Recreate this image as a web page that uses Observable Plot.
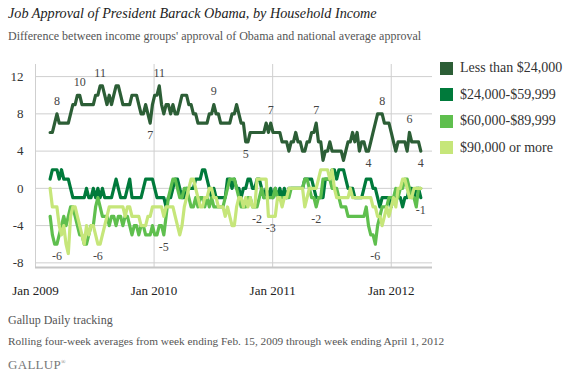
<!DOCTYPE html>
<html><head><meta charset="utf-8">
<script src="https://cdn.jsdelivr.net/npm/d3@7"></script>
<script src="https://cdn.jsdelivr.net/npm/@observablehq/plot@0.6"></script>
<style>
body{margin:0;background:#fff;width:576px;height:378px;position:relative;overflow:hidden;font-family:"Liberation Serif",serif;}
#title{position:absolute;left:8px;top:5px;font-style:italic;font-size:14.2px;color:#222;white-space:nowrap;}
#subtitle{position:absolute;left:8px;top:29px;font-size:12px;color:#555;white-space:nowrap;}
#chart{position:absolute;left:0;top:50px;}
#legend{position:absolute;left:440px;top:55px;}
.item{display:flex;align-items:center;height:26.5px;font-size:14px;color:#333;white-space:nowrap;}
.sw{width:13px;height:13px;margin-right:7px;flex:none;}
.foot{position:absolute;left:8px;font-size:11.3px;color:#555;white-space:nowrap;}
#logo{position:absolute;left:8px;top:357px;font-size:13px;color:#777;letter-spacing:0.3px;}
#logo sup{font-size:6px;}
</style></head>
<body>
<div id="title">Job Approval of President Barack Obama, by Household Income</div>
<div id="subtitle">Difference between income groups' approval of Obama and national average approval</div>
<div id="chart"></div>
<div id="legend"></div>
<div class="foot" style="top:313px;font-size:12px">Gallup Daily tracking</div>
<div class="foot" style="top:335px">Rolling four-week averages from week ending Feb. 15, 2009 through week ending April 1, 2012</div>
<div id="logo">GALLUP<sup>®</sup></div>
<script>
// ---- data ----
const seriesNames = ["Less than $24,000", "$24,000-$59,999", "$60,000-$89,999", "$90,000 or more"];
const seriesColors = ["#2c5e36", "#007a3b", "#5fbf4e", "#c6e67a"];
const firstWeekEnding = "2009-02-15";
const yearTickLabels = ["Jan 2009", "Jan 2010", "Jan 2011", "Jan 2012"];
const yTicks = [-8, -4, 0, 4, 8, 12];

const lessThan24k = [
 6,6,7,8,7,7,7,7,7,8, 9,9,10,10,9,9,9,9,9,9, 10,10,11,11,10,9,10,9,10,11,
 11,10,9,9,9,9,10,10,10,9, 8,8,9,8,7,9,10,10,11,9, 8,9,9,8,9,8,8,9,10,10,
 10,9,9,8,8,7,7,7,7,7, 8,8,9,8,8,7,7,7,7,7, 8,8,9,8,7,7,5,5,6,6,
 6,6,6,6,6,7,6,7,6,6, 6,6,5,5,5,4,5,5,6,5, 5,4,4,5,5,6,6,7,5,5,
 3,4,4,5,4,4,4,4,4,3, 4,5,5,6,5,6,4,5,5,4, 4,5,6,7,8,8,8,7,7,7,
 6,5,4,5,5,5,5,4,6,5, 5,5,5,4];
const from24to60k = [
 1,2,2,2,1,2,1,1,1,0, -1,-1,-1,-1,-1,-1,0,-1,-1,0, -1,0,-1,0,-1,-1,-1,-1,0,1,
 0,-1,-1,-1,0,1,-1,-1,-1,-1, -1,0,1,1,1,1,0,-1,-1,-1, -1,-2,-1,-1,0,1,1,0,-1,-1,
 0,0,0,0,1,1,1,2,2,1, 0,-1,0,-1,-1,-1,-1,-1,1,1, 0,1,0,0,-1,0,0,1,1,0,
 0,1,1,0,-1,0,-1,0,-1,0, -1,0,-1,0,-1,0,0,0,0,0, 0,0,1,1,1,1,0,-1,-1,-1,
 -1,1,1,1,2,2,1,2,2,2, 1,0,0,0,-1,-1,-1,-1,0,1, 1,1,0,0,-1,-2,-1,-1,-1,-1,
 -2,-1,-1,-1,-1,-2,-1,-1,0,0, -1,0,0,-1];
const from60to90k = [
 -3,-5,-6,-6,-5,-4,-3,-4,-3,-2, -2,-3,-4,-5,-5,-6,-6,-5,-4,-4, -2,-1,-2,-3,-3,-3,-4,-3,-3,-4,
 -3,-3,-4,-3,-3,-4,-5,-4,-4,-5, -4,-4,-5,-5,-5,-4,-5,-5,-4,-4, -5,-3,-1,0,1,1,0,-1,-1,0,
 0,-1,-2,-2,-1,-2,-1,-1,-2,-1, -2,-1,-2,-2,-2,-2,-2,-1,0,1, 1,1,0,-1,-2,-2,-2,-1,-1,-2,
 -2,-2,-1,0,-1,-1,-1,-1,-1,0, -1,-1,-1,-1,-1,-1,0,0,0,0, 0,0,1,1,0,-1,-1,-2,-1,-1,
 1,1,1,1,0,0,0,-1,-2,-2, -2,-3,-3,-3,-3,-3,-3,-3,-3,-2, -4,-5,-5,-6,-4,-3,-2,-2,-2,-1,
 -1,-1,0,-1,0,0,1,1,0,-1, -1,-2,0,0];
const over90k = [
 0,-2,-2,-2,-4,-5,-4,-6,-7,-3, -2,-2,-3,-4,-5,-6,-4,-5,-4,-4, -5,-6,-6,-5,-4,-3,-2,-2,-2,-2,
 -2,-2,-2,-3,-2,-2,-3,-3,-3,-3, -4,-4,-4,-3,-3,-2,-2,-2,-2,-2, -3,-2,-2,-2,-2,-3,-4,-5,-4,-2,
 -1,0,1,1,0,-1,-2,-2,-1,-1, 0,0,-1,-1,-2,-2,-2,-3,-2,-3, -4,-4,-2,-1,-1,-2,-1,-2,-1,-2,
 -2,1,1,1,1,1,-3,-3,-3,-3, -1,-1,-2,-1,-1,0,0,0,0,0, 0,0,-2,-1,0,0,0,0,1,2,
 2,2,2,1,2,0,-1,-1,-1,-1, -1,-1,0,-1,-1,-1,-1,-1,-1,-1, -1,-1,-2,-2,-3,-3,-4,-3,-2,-3,
 -2,-1,-2,0,0,1,1,0,-1,-1, 0,0,0,0];

// data labels: which series, which week, above/below the line
const labelSeries = [0,0,0,0,0,0,0,0,0,0,0,0,0, 2,2,2,2,2, 3,3, 1];
const labelWeek   = [3,13,22,44,48,72,86,97,117,140,146,158,163, 3,50,91,117,143, 21,97, 163];
const labelAbove  = [1,1,1,0,1,1,0,1,1,0,1,1,0, 0,0,0,0,0, 0,0, 0];

// ---- build ----
const seriesValues = [lessThan24k, from24to60k, from60to90k, over90k];
const t0 = new Date(firstWeekEnding + "T00:00:00Z");
const weekDate = i => new Date(t0.getTime() + i * 7 * 864e5);
const rows = seriesValues.flatMap((vals, s) => vals.map((v, i) => ({date: weekDate(i), value: v, series: seriesNames[s]})));
const yearTicks = yearTickLabels.map(l => new Date(Date.UTC(+l.slice(4), 0, 1)));
const labels = labelWeek.map((w, k) => {
  const v = seriesValues[labelSeries[k]][w];
  return {date: weekDate(w), value: v, text: String(v), above: labelAbove[k] === 1};
});

const chart = Plot.plot({
  width: 576, height: 255,
  marginLeft: 35, marginRight: 144, marginTop: 14, marginBottom: 38,
  style: {fontFamily: "'Liberation Serif', serif", fontSize: "13px", color: "#333", background: "transparent"},
  x: {type: "utc", domain: [new Date(Date.UTC(2009,0,1)), new Date(Date.UTC(2012,4,7))]},
  y: {domain: [-8.5, 13.3]},
  color: {domain: seriesNames, range: seriesColors},
  marks: [
    Plot.ruleY(yTicks, {stroke: "#cfcfcf", strokeWidth: 1}),
    Plot.ruleX(yearTicks, {stroke: "#cfcfcf", strokeWidth: 1}),
    Plot.ruleY([-8.5], {stroke: "#c6c6c6", strokeWidth: 2}),
    Plot.lineY(rows, {x: "date", y: "value", z: "series", stroke: "series", strokeWidth: 3.2, strokeLinejoin: "round"}),
    Plot.text(labels.filter(d => d.above), {x: "date", y: "value", text: "text", dy: -13, fill: "#444", fontSize: 12}),
    Plot.text(labels.filter(d => !d.above), {x: "date", y: "value", text: "text", dy: 12, fill: "#444", fontSize: 12}),
    Plot.axisY(yTicks, {tickSize: 0, tickPadding: 12, tickFormat: d => String(d), label: null, fill: "#333"}),
    Plot.axisX(yearTicks, {tickSize: 0, tickPadding: 18, tickFormat: (d, i) => yearTickLabels[i], label: null, fill: "#222"})
  ]
});
document.getElementById("chart").appendChild(chart);

const legend = document.getElementById("legend");
seriesNames.forEach((n, i) => {
  const it = document.createElement("div"); it.className = "item";
  const sw = document.createElement("div"); sw.className = "sw"; sw.style.background = seriesColors[i];
  const tx = document.createElement("span"); tx.textContent = n;
  it.appendChild(sw); it.appendChild(tx); legend.appendChild(it);
});
</script>
</body></html>
